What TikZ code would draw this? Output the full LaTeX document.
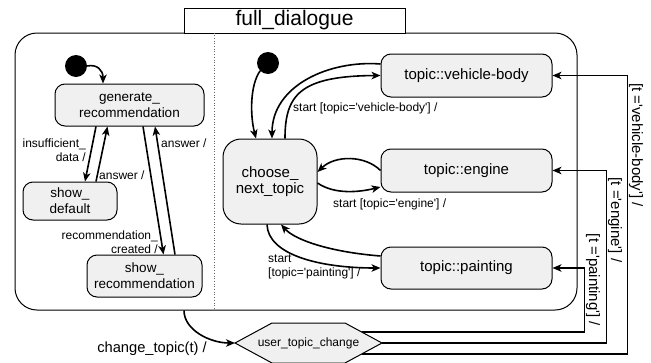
\documentclass[tikz,border=0pt]{standalone}
\usepackage{fontspec}
\setmainfont{Liberation Sans}
\usetikzlibrary{arrows.meta}
\definecolor{nodefill}{HTML}{F0F0F0}
\newcommand{\fsz}[2]{\fontsize{#1}{#2}\selectfont}
\newcommand{\sq}{\textquotesingle}
\begin{document}
\begin{tikzpicture}[x=1pt,y=-1pt,
  state/.style={draw, line width=1pt, fill=nodefill, rounded corners=10pt, align=center, inner sep=2pt, font=\fsz{13.5}{16}},
  tstate/.style={state, font=\fsz{15}{15.5}},
  initial/.style={circle, fill=black, minimum size=22pt, inner sep=0pt},
  lbl/.style={inner sep=0pt, font=\fsz{12}{14}},
  rlbl/.style={inner sep=0pt, font=\fsz{15}{17}, rotate=-90},
  tr/.style={line width=1.6pt, -{Stealth[length=9pt,width=7.5pt,inset=2.5pt]}},
  trr/.style={line width=1.5pt, -{Stealth[length=9pt,width=7.5pt,inset=2.5pt]}}
]
\useasboundingbox (0,0) rectangle (651,362);

% container and title
\node[draw, line width=1pt, fill=white, rounded corners=22pt, minimum width=562pt, minimum height=277pt, inner sep=0pt] (fd) at (296,171.5) {};
\node[draw, line width=1pt, fill=white, minimum width=221pt, minimum height=25pt, inner sep=0pt, font=\fsz{21}{24}] (title) at (294.5,20.5) {full\_dialogue};
\draw[gray!80!black, line width=0.7pt, dotted] ([xshift=-82pt]fd.north) -- ([xshift=-82pt]fd.south);

% left region
\node[initial] (i1) at (76,66) {};
\node[state, minimum width=149pt, minimum height=42pt] (gen) at (129.5,105) {generate\_\\recommendation};
\node[state, minimum width=94pt, minimum height=38pt] (sd) at (70,201) {show\_\\default};
\node[state, minimum width=115pt, minimum height=42pt] (sr) at (144.5,276) {show\_\\recommendation};

% right region
\node[initial] (i2) at (268,63) {};
\node[tstate, rounded corners=18pt, minimum width=94pt, minimum height=85pt] (cnt) at (270,181.5) {choose\_\\next\_topic};
\node[tstate, minimum width=171pt, minimum height=43pt] (vb) at (466.5,75.5) {topic::vehicle-body};
\node[tstate, minimum width=171pt, minimum height=43pt] (en) at (466.5,170.5) {topic::engine};
\node[tstate, minimum width=171pt, minimum height=42pt] (pa) at (466.5,268) {topic::painting};

% hexagon
\draw[line width=1pt, fill=nodefill] (235,343) -- (272,323) -- (345,323) -- (382,343) -- (345,363) -- (272,363) -- cycle;
\node[lbl] (hex) at (308.5,343) {user\_topic\_change};
\coordinate (hxL) at (235,343);
\coordinate (hxA) at (362,332);
\coordinate (hxB) at (382,343);
\coordinate (hxC) at (362,354);

% left transitions
\draw[tr] (i1.east) .. controls (97,64) and (103,70) .. ([xshift=-26.5pt]gen.north);
\draw[tr] ([xshift=-33.5pt]gen.south) -- ([xshift=15pt]sd.north);
\draw[tr] ([xshift=26pt]sd.north) -- ([xshift=-22pt]gen.south);
\draw[tr] ([xshift=13.5pt]gen.south) -- ([xshift=19pt]sr.north);
\draw[tr] ([xshift=30.5pt]sr.north) -- ([xshift=25.5pt]gen.south);

\node[lbl, align=right, anchor=east] (l1) at (86,150) {insufficient\_\\data /};
\node[lbl, anchor=west] (l2) at (99,175) {answer /};
\node[lbl, align=right, anchor=east] (l3) at (158,242) {recommendation\_\\created /};
\node[lbl, anchor=west] (l4) at (161,143) {answer /};

% right transitions
\draw[tr] (i2.south west) .. controls (250,85) and (250,115) .. ([xshift=-14pt]cnt.north);
\draw[tr] ([yshift=11.5pt]vb.west) .. controls (330,60) and (272,85) .. ([xshift=2pt]cnt.north);
\draw[tr] ([xshift=15pt]cnt.north) .. controls (285,95) and (300,76) .. (vb.west);
\draw[tr] (en.west) .. controls (365,155) and (335,155) .. ([yshift=9.5pt]cnt.east);
\draw[tr] ([yshift=-1.5pt]cnt.east) .. controls (335,195) and (360,192) .. ([yshift=-16.5pt]en.west);
\draw[tr] ([yshift=12pt]pa.west) .. controls (330,252) and (295,240) .. ([xshift=11pt]cnt.south);
\draw[tr] ([xshift=-3pt]cnt.south) .. controls (268,255) and (320,268) .. (pa.west);

\node[lbl, anchor=west] (l5) at (293,108) {start [topic=\sq vehicle-body\sq] /};
\node[lbl, anchor=west] (l6) at (333,204) {start [topic=\sq engine\sq] /};
\node[lbl, align=left, anchor=west] (l7) at (268,267) {start\\{}[topic=\sq painting\sq] /};

% change topic
\draw[tr] ([xshift=-112pt]fd.south) .. controls (184,330) and (210,343) .. (hxL);
\node[inner sep=0pt, font=\fsz{14.7}{17}] (ct) at (152,349) {change\_topic(t) /};

\draw[trr] (hxA) -| ([xshift=32pt]pa.east) -- (pa.east);
\draw[trr] (hxB) -| ([xshift=54pt]en.east) -- (en.east);
\draw[trr] (hxC) -| ([xshift=75pt]vb.east) -- (vb.east);

\node[rlbl] (r1) at (636,145) {[t =\sq vehicle-body\sq] /};
\node[rlbl] (r2) at (615,220) {[t =\sq engine\sq] /};
\node[rlbl] (r3) at (593,280) {[t =\sq painting\sq] /};
\end{tikzpicture}
\end{document}
